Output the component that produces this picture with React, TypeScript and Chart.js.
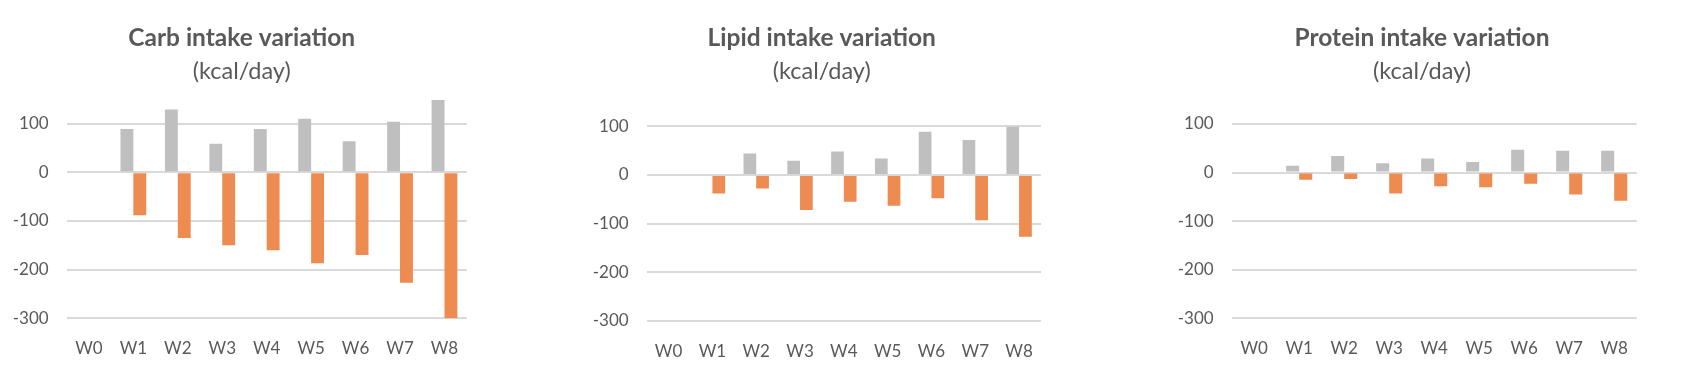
import React, { useEffect, useRef } from "react";
import { Chart, registerables } from "chart.js";

Chart.register(...registerables);

// ---- data ----
const categories = ["W0", "W1", "W2", "W3", "W4", "W5", "W6", "W7", "W8"];

const carbIncrease = [null, 89, 129, 59, 89, 110, 64, 104, 149];
const carbDecrease = [null, -88, -135, -150, -160, -187, -170, -227, -300];

const lipidIncrease = [null, null, 44, 29, 48, 34, 89, 72, 99];
const lipidDecrease = [null, -38, -28, -72, -55, -63, -48, -93, -127];

const proteinIncrease = [null, 14, 34, 19, 29, 22, 47, 45, 45];
const proteinDecrease = [null, -15, -13, -43, -28, -30, -23, -45, -58];

const titles = ["Carb intake variation", "Lipid intake variation", "Protein intake variation"];
const subtitleText = "(kcal/day)";
const yMins = [-300, -300, -300];
const yMaxs = [150, 100, 100];
const yStep = 100;

// ---- style / layout ----
const FONT = "Lato";
const TEXT = "#595959";
const GRAY = "#bfbfbf";
const ORANGE = "#ed8b50";
const GRID = "#d9d9d9";

type Layout = {
  left: number;
  width: number;
  padR: number;
  yWidth: number;
  titleCenter: number;
  subBottom: number;
  padB: number;
};

const layouts: Layout[] = [
  { left: 0, width: 483, padR: 16.3, yWidth: 66.7, titleCenter: 241.7, subBottom: 14.3, padB: 15.7 },
  { left: 575, width: 485, padR: 19, yWidth: 71.7, titleCenter: 246.7, subBottom: 41.2, padB: 13 },
  { left: 1165, width: 500, padR: 28.3, yWidth: 66.7, titleCenter: 257, subBottom: 38.9, padB: 15.7 },
];

const HEIGHT = 384;

// centres the title/subtitle blocks on a chosen x, as in the original layout
const titleCenterPlugin = {
  id: "titleCenter",
  afterLayout(chart: any, _args: any, opts: any) {
    const c = opts.center;
    if (typeof c !== "number") return;
    chart.boxes.forEach((b: any) => {
      if (b.position === "top" && b.options && typeof b.options.text === "string") {
        b.left = c - 240;
        b.right = c + 240;
        b.width = 480;
      }
    });
  },
};

function Panel(props: {
  title: string;
  inc: (number | null)[];
  dec: (number | null)[];
  min: number;
  max: number;
  layout: Layout;
}) {
  const ref = useRef<HTMLCanvasElement | null>(null);
  const { title, inc, dec, min, max, layout } = props;

  useEffect(() => {
    if (!ref.current) return;
    const chart = new Chart(ref.current, {
      type: "bar",
      data: {
        labels: categories,
        datasets: [
          {
            label: "Increase",
            data: inc,
            backgroundColor: GRAY,
            borderWidth: 0,
            categoryPercentage: 0.58,
            barPercentage: 1,
          },
          {
            label: "Decrease",
            data: dec,
            backgroundColor: ORANGE,
            borderWidth: 0,
            categoryPercentage: 0.58,
            barPercentage: 1,
          },
        ],
      },
      plugins: [titleCenterPlugin],
      options: {
        responsive: false,
        animation: false,
        devicePixelRatio: 1,
        layout: {
          padding: { left: 0, right: layout.padR, top: 0, bottom: layout.padB },
        },
        plugins: {
          titleCenter: { center: layout.titleCenter },
          legend: { display: false },
          tooltip: { enabled: false },
          title: {
            display: true,
            text: title,
            color: TEXT,
            font: { family: FONT, size: 24.5, weight: "bold", lineHeight: 1.2 },
            padding: { top: 23.8, bottom: 0 },
          },
          subtitle: {
            display: true,
            text: subtitleText,
            color: TEXT,
            font: { family: FONT, size: 23.5, weight: "normal", lineHeight: 1.2 },
            padding: { top: 3.7, bottom: layout.subBottom },
          },
        },
        scales: {
          x: {
            grid: { display: false, drawTicks: false },
            border: { display: false },
            ticks: {
              color: TEXT,
              font: { family: FONT, size: 17 },
              padding: 20.5,
              maxRotation: 0,
            },
            afterFit: (scale: any) => {
              scale.height = 50;
            },
          },
          y: {
            min,
            max,
            grid: { color: GRID, lineWidth: 2, drawTicks: false },
            border: { display: false },
            ticks: {
              stepSize: yStep,
              color: TEXT,
              font: { family: FONT, size: 17 },
              padding: 18,
            },
            afterBuildTicks: (axis: any) => {
              axis.ticks = axis.ticks.filter((t: any) => t.value % yStep === 0);
            },
            afterFit: (scale: any) => {
              scale.width = layout.yWidth;
            },
          },
        },
      } as any,
    });
    return () => chart.destroy();
  }, []);

  return (
    <canvas
      ref={ref}
      width={layout.width}
      height={HEIGHT}
      style={{ position: "absolute", left: layout.left, top: 0, width: layout.width, height: HEIGHT }}
    />
  );
}

export default function App() {
  const incs = [carbIncrease, lipidIncrease, proteinIncrease];
  const decs = [carbDecrease, lipidDecrease, proteinDecrease];
  return (
    <div
      style={{
        position: "fixed",
        left: 0,
        top: 0,
        width: 1693,
        height: HEIGHT,
        background: "#ffffff",
        overflow: "hidden",
      }}
    >
      {titles.map((t, i) => (
        <Panel
          key={t}
          title={t}
          inc={incs[i]}
          dec={decs[i]}
          min={yMins[i]}
          max={yMaxs[i]}
          layout={layouts[i]}
        />
      ))}
    </div>
  );
}
